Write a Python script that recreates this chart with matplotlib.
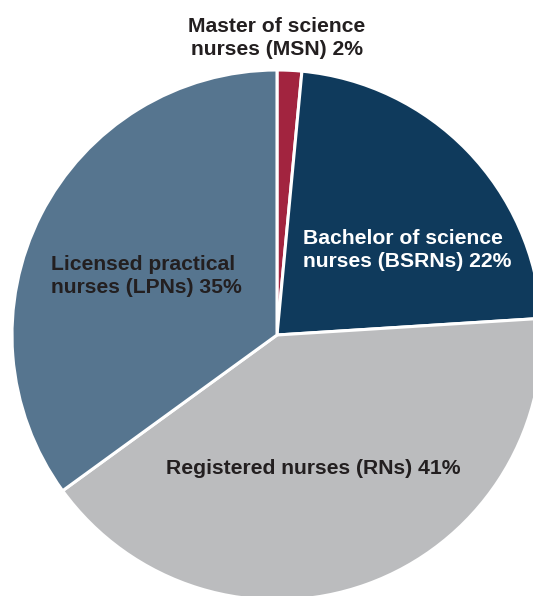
import matplotlib.pyplot as plt

plt.rcParams['font.family'] = ['Liberation Sans', 'DejaVu Sans']

# shares (labels show rounded values)
groups = ['MSN', 'BSRN', 'RN', 'LPN']
shares = [1.5, 22.5, 41.0, 35.0]
labels = ['Master of science\nnurses (MSN) 2%',
          'Bachelor of science\nnurses (BSRNs) 22%',
          'Registered nurses (RNs) 41%',
          'Licensed practical\nnurses (LPNs) 35%']
colors = ['#A2243F', '#0F3A5C', '#BBBCBE', '#56758F']

W, H = 533, 596
fig = plt.figure(figsize=(W/100, H/100), dpi=100)
ax = fig.add_axes([0, 0, 1, 1])

cx, cy, r = 277, 335, 265
ax.pie(shares, colors=colors, startangle=90, counterclock=False,
       radius=1, center=(0, 0),
       wedgeprops=dict(edgecolor='white', linewidth=2.2))
ax.set_xlim(-cx/r, (W-cx)/r)
ax.set_ylim(-(H-cy)/r, cy/r)
ax.set_aspect('equal')
ax.axis('off')

# label placement in pixels (x, y from top, ha, colour)
lab_pos = [(277, 38, 'center', '#231F20'),
           (303, 250, 'left', 'white'),
           (313, 469, 'center', '#231F20'),
           (51, 276, 'left', '#231F20')]
for txt, (px, py, ha, c) in zip(labels, lab_pos):
    ax.text(px/W, 1-py/H, txt, transform=ax.transAxes, ha=ha, va='center',
            multialignment=ha, fontsize=15.2, fontweight='bold', color=c,
            linespacing=1.28)

fig.savefig('out.png', dpi=100)
